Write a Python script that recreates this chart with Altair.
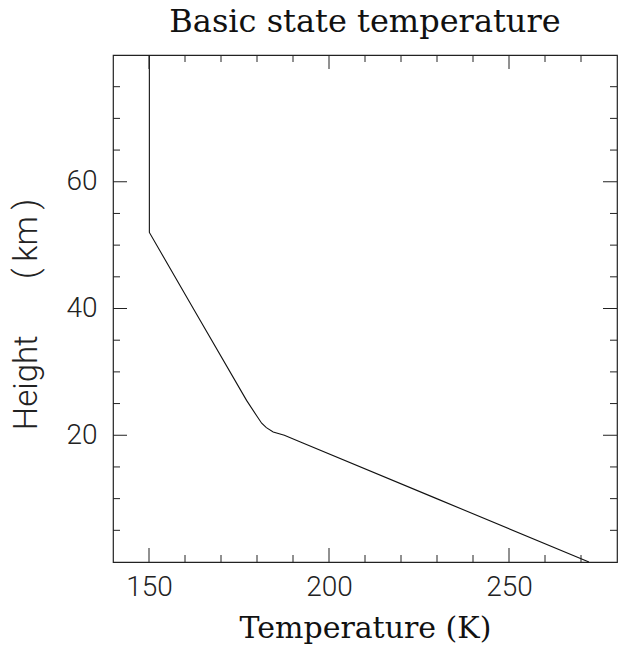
import altair as alt
import pandas as pd

# Data
height_km = [0, 10, 18.96, 20.0, 20.5, 21.2, 21.9, 23.0, 25.5, 40, 52.0, 80]
temp_K = [272.2, 229.9, 191.9, 187.6, 184.5, 182.6, 181.3, 180.0, 177.1, 162.3, 150.1, 150.1]

x_major = [150, 200, 250]
x_minor = [160, 170, 180, 190, 210, 220, 230, 240, 260, 270]
y_major = [20, 40, 60]
y_minor = [5, 10, 15, 25, 30, 35, 45, 50, 55, 65, 70, 75]

W, H = 504, 507
MAJ, MIN = 14, 7

xscale = alt.Scale(domain=[140, 280], nice=False, zero=False)
yscale = alt.Scale(domain=[0, 80], nice=False, zero=False)

TICK_FONT = "Roboto"
SERIF = "DejaVu Serif"

NB = "\u00a0"
TH = "\u2009"
y_title = "Height" + NB * 7 + "(" + TH + "km" + TH + ")"

xaxis = alt.Axis(values=x_major, tickSize=0, domain=False, grid=False,
                 labelFont=TICK_FONT, labelFontSize=28, labelFontWeight=300,
                 labelColor="#222222", labelPadding=11,
                 title="Temperature (K)", titleFont=SERIF, titleFontSize=30,
                 titleFontWeight="normal", titleColor="#111111", titlePadding=12)
yaxis = alt.Axis(values=y_major, tickSize=0, domain=False, grid=False,
                 labelFont=TICK_FONT, labelFontSize=28, labelFontWeight=300,
                 labelColor="#222222", labelPadding=16,
                 title=y_title, titleFont=TICK_FONT,
                 titleFontSize=33, titleFontWeight=300, titleColor="#222222",
                 titlePadding=22, titleY=259)

df = pd.DataFrame({"T": temp_K, "z": height_km, "o": list(range(len(temp_K)))})

line = alt.Chart(df).mark_line(color="#111111", strokeWidth=1.1).encode(
    x=alt.X("T:Q", scale=xscale, axis=xaxis),
    y=alt.Y("z:Q", scale=yscale, axis=yaxis),
    order="o:Q",
)


def xticks(vals, length, top):
    y0 = 0 if top else H
    y1 = length if top else H - length
    return alt.Chart(pd.DataFrame({"T": vals})).mark_rule(color="#222222", strokeWidth=1).encode(
        x=alt.X("T:Q", scale=xscale, axis=xaxis),
        y=alt.value(y0), y2=alt.value(y1))


def yticks(vals, length, right):
    x0 = W if right else 0
    x1 = W - length if right else length
    return alt.Chart(pd.DataFrame({"z": vals})).mark_rule(color="#222222", strokeWidth=1).encode(
        y=alt.Y("z:Q", scale=yscale, axis=yaxis),
        x=alt.value(x0), x2=alt.value(x1))


layers = [line]
for top in (False, True):
    layers.append(xticks(x_major, MAJ, top))
    layers.append(xticks(x_minor, MIN, top))
for right in (False, True):
    layers.append(yticks(y_major, MAJ, right))
    layers.append(yticks(y_minor, MIN, right))

chart = alt.layer(*layers).properties(
    width=W, height=H,
    title=alt.Title("Basic state temperature", font=SERIF, fontSize=32,
                    fontWeight="normal", color="#111111", anchor="middle", offset=14),
    autosize=alt.AutoSizeParams(type="none"),
    padding={"left": 113, "top": 55, "right": 7, "bottom": 91},
).configure(background="white").configure_view(stroke="#222222", strokeWidth=1.2)

chart.save("out.html", embed_options={"renderer": "svg", "actions": False})
